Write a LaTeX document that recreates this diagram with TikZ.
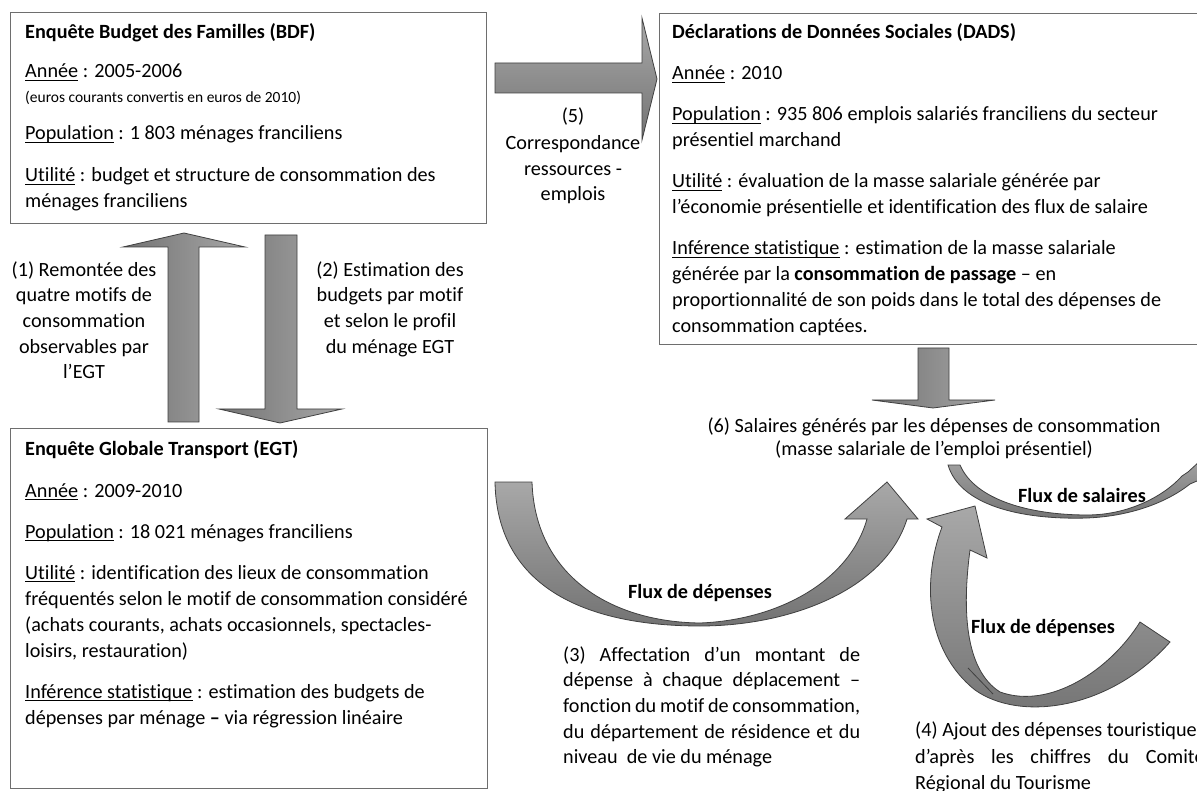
\documentclass[tikz,border=0pt]{standalone}
\usepackage{fontspec}
\setmainfont{Carlito}[Ligatures={NoCommon}]
\newlength\wfour
\newcommand\ulx[1]{\setbox0=\hbox{#1}\rlap{\rule[-2.6pt]{\wd0}{0.9pt}}\box0\relax}
\newcommand\fs{\fontsize{20.2}{26}\selectfont}
\newcommand\fsmall{\fontsize{15.5}{18}\selectfont}
\newcommand\tlin[4]{\node[txt] (#1) at (#2,#3) {#4};}
\newcommand\tcen[4]{\node[ctxt] (#1) at (#2,#3) {#4};}
\definecolor{arrline}{RGB}{64,64,64}
\definecolor{arrdark}{RGB}{115,115,115}
\definecolor{arrlight}{RGB}{168,168,168}
\definecolor{boxline}{RGB}{110,110,110}
\tikzset{
  box/.style={draw=boxline, line width=1.2pt, fill=white, inner sep=0, anchor=north west},
  txt/.style={font=\fs, inner sep=0, anchor=base west},
  ctxt/.style={font=\fs, inner sep=0, anchor=base},
  blockarrow/.style={draw=arrline, line width=0.8pt, line join=miter},
  curvearrow/.style={draw=arrline, line width=0.8pt, top color=arrlight, bottom color=arrdark},
}
\begin{document}
\begin{tikzpicture}[x=1pt,y=-1pt]
\clip (0,0) rectangle (1197,791);
\fill[white] (0,0) rectangle (1197,791);

% boxes
\node[box, minimum width=476pt, minimum height=211pt] (bdf) at (10,12) {};
\node[box, minimum width=477pt, minimum height=360pt] (egt) at (10,428) {};
\node[box, minimum width=550pt, minimum height=331pt] (dads) at (659,13) {};

% BDF text
\tlin{bdf1}{25}{39}{\textbf{Enquête Budget des Familles (BDF)}}
\tlin{bdf2}{25}{78}{\ulx{Année} : 2005-2006}
\node[txt, font=\fsmall] (bdf3) at (25,103) {(euros courants convertis en euros de 2010)};
\tlin{bdf4}{25}{140}{\ulx{Population} : 1 803 ménages franciliens}
\tlin{bdf5}{25}{182}{\ulx{Utilité} : budget et structure de consommation des}
\tlin{bdf6}{25}{208}{ménages franciliens}

% EGT text
\tlin{egt1}{25}{456}{\textbf{Enquête Globale Transport (EGT)}}
\tlin{egt2}{25}{497}{\ulx{Année} : 2009-2010}
\tlin{egt3}{25}{538}{\ulx{Population} : 18 021 ménages franciliens}
\tlin{egt4}{25}{579}{\ulx{Utilité} : identification des lieux de consommation}
\tlin{egt5}{25}{605}{fréquentés selon le motif de consommation considéré}
\tlin{egt6}{25}{631}{(achats courants, achats occasionnels, spectacles-}
\tlin{egt7}{25}{657}{loisirs, restauration)}
\tlin{egt8}{25}{698}{\ulx{Inférence statistique} : estimation des budgets de}
\tlin{egt9}{25}{724}{dépenses par ménage \textbf{–} via régression linéaire}

% DADS text
\tlin{dads1}{672}{39}{\textbf{Déclarations de Données Sociales (DADS)}}
\tlin{dads2}{672}{80}{\ulx{Année} : 2010}
\tlin{dads3}{672}{121}{\ulx{Population} : 935 806 emplois salariés franciliens du secteur}
\tlin{dads4}{672}{147}{présentiel marchand}
\tlin{dads5}{672}{188}{\ulx{Utilité} : évaluation de la masse salariale générée par}
\tlin{dads6}{672}{214}{l’économie présentielle et identification des flux de salaire}
\tlin{dads7}{672}{255}{\ulx{Inférence statistique} : estimation de la masse salariale}
\tlin{dads8}{672}{281}{générée par la \textbf{consommation de passage} – en}
\tlin{dads9}{672}{307}{proportionnalité de son poids dans le total des dépenses de}
\tlin{dads10}{672}{333}{consommation captées.}

% straight block arrows
\draw[blockarrow, left color=arrdark, right color=arrlight]
  (168,422) -- (168,247) -- (123,247) -- (184,233) -- (245,247) -- (199,247) -- (199,422) -- cycle;
\draw[blockarrow, left color=arrdark, right color=arrlight]
  (265,235) -- (297,235) -- (297,409) -- (342,409) -- (280,423) -- (219,409) -- (265,409) -- cycle;
\draw[blockarrow, top color=arrlight, bottom color=arrdark]
  (495,63) -- (642,63) -- (642,18) -- (657,79) -- (642,140) -- (642,93) -- (495,93) -- cycle;
\draw[blockarrow, left color=arrdark, right color=arrlight]
  (918,348) -- (949,348) -- (949,400) -- (995,400) -- (933,408) -- (872,400) -- (918,400) -- cycle;

% curved arrow (3)
\draw[curvearrow]
  (495,482) -- (532,482) .. controls (535,575) and (610,622) .. (700,623)
  .. controls (780,620) and (850,580) .. (867,519) -- (845,519) -- (887,482) -- (918,519) -- (907,519)
  .. controls (885,590) and (790,626) .. (700,626)
  .. controls (590,626) and (497,590) .. (495,482) -- cycle;

% curved arrow (4)
\draw[curvearrow]
  (942,527) -- (927,519) -- (975,506) -- (987,558) -- (970,550)
  .. controls (962,610) and (965,670) .. (1000,692)
  .. controls (1050,710) and (1110,670) .. (1140,622) -- (1170,642)
  .. controls (1110,710) and (1020,722) .. (975,690)
  .. controls (925,650) and (922,580) .. (942,527) -- cycle;
\draw[arrline, line width=0.8pt] (968,668) -- (993,694);

% curved arrow salaires
\draw[curvearrow]
  (948,465) -- (960,465) .. controls (975,500) and (1030,515) .. (1087,515)
  .. controls (1130,515) and (1165,495) .. (1182,476) -- (1188,472) -- (1212,450) -- (1218,472) -- (1190,484)
  .. controls (1170,500) and (1135,516) .. (1087,518)
  .. controls (1020,520) and (960,505) .. (948,465) -- cycle;

% labels between boxes
\tcen{l1a}{84}{277}{(1) Remontée des}
\tcen{l1b}{84}{302}{quatre motifs de}
\tcen{l1c}{84}{328}{consommation}
\tcen{l1d}{84}{354}{observables par}
\tcen{l1e}{84}{379}{l’EGT}
\tcen{l2a}{390}{277}{(2) Estimation des}
\tcen{l2b}{390}{302}{budgets par motif}
\tcen{l2c}{390}{328}{et selon le profil}
\tcen{l2d}{390}{354}{du ménage EGT}
\tcen{l5a}{573}{123}{(5)}
\tcen{l5b}{573}{150}{Correspondance}
\tcen{l5c}{573}{176}{ressources -}
\tcen{l5d}{573}{201}{emplois}
\tcen{l6a}{934}{432}{(6) Salaires générés par les dépenses de consommation}
\tcen{l6b}{934}{456}{(masse salariale de l’emploi présentiel)}

\node[ctxt, font=\fs\bfseries] (fd3) at (700,598) {Flux de dépenses};
\node[ctxt, font=\fs\bfseries] (fd4) at (1043,633) {Flux de dépenses};
\node[ctxt, font=\fs\bfseries] (fs) at (1082,502) {Flux de salaires};

% (3) justified
\tlin{l3a}{563}{661}{\makebox[297pt][s]{(3) Affectation d’un montant de}}
\tlin{l3b}{563}{686}{\makebox[297pt][s]{dépense à chaque déplacement –}}
\tlin{l3c}{563}{712}{\makebox[297pt][s]{fonction du motif de consommation,}}
\tlin{l3d}{563}{738}{\makebox[297pt][s]{du département de résidence et du}}
\tlin{l3e}{563}{763}{niveau\ \ de vie du ménage}

% (4)
\tlin{l4a}{915}{736}{(4) Ajout des dépenses touristiques}
\tlin{l4b}{915}{763}{\settowidth{\wfour}{(4) Ajout des dépenses touristiques}\makebox[\wfour][s]{d’après les chiffres du Comité}}
\tlin{l4c}{915}{789}{Régional du Tourisme}
\end{tikzpicture}
\end{document}
